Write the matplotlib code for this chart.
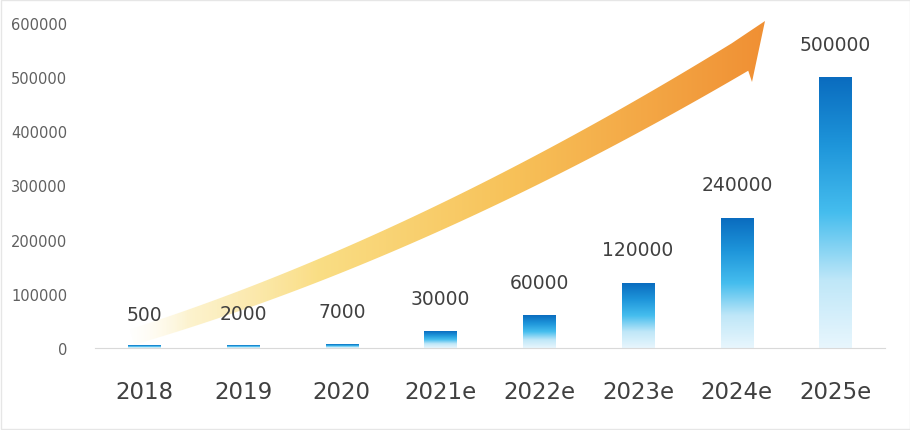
import numpy as np
import matplotlib.pyplot as plt
from matplotlib.colors import LinearSegmentedColormap
from matplotlib.patches import Polygon

years = ["2018", "2019", "2020", "2021e", "2022e", "2023e", "2024e", "2025e"]
values = [500, 2000, 7000, 30000, 60000, 120000, 240000, 500000]
yticks = [0, 100000, 200000, 300000, 400000, 500000, 600000]

fig = plt.figure(figsize=(9.1, 4.31), dpi=100)
fig.patch.set_facecolor("white")
ax = fig.add_axes([95 / 910, 82 / 431, 790 / 910, 325 / 431])

bar_cmap = LinearSegmentedColormap.from_list(
    "bar", ["#e8f6fd", "#bfe7f8", "#45bdee", "#1e95da", "#0a6cbf"])
grad = np.linspace(0, 1, 256).reshape(-1, 1)
bw = 0.33
for i, v in enumerate(values):
    ax.imshow(grad, cmap=bar_cmap, aspect="auto", origin="lower",
              extent=(i - bw / 2, i + bw / 2, 0, max(v, 4000)), zorder=2)
    ax.text(i, v + 61000, f"{v}", ha="center", va="center",
            fontsize=13.5, color="#404040")

ax.set_xlim(-0.5, len(years) - 0.5)
ax.set_ylim(0, 600000)
ax.set_xticks(range(len(years)))
ax.set_xticklabels(years, fontsize=16.5, color="#404040")
ax.set_yticks(yticks)
ax.set_yticklabels([str(t) for t in yticks], fontsize=10.5, color="#606060")
ax.tick_params(axis="both", length=0)
ax.tick_params(axis="x", pad=23)
ax.tick_params(axis="y", pad=20)
for s in ["top", "right", "left"]:
    ax.spines[s].set_visible(False)
ax.spines["bottom"].set_color("#d9d9d9")
ax.set_facecolor("none")

# decorative growth arrow, drawn in pixel space on an overlay
ov = fig.add_axes([0, 0, 1, 1], zorder=-1)
ov.set_xlim(0, 910)
ov.set_ylim(431, 0)
ov.axis("off")

p0, p1, p2 = np.array([132, 338]), np.array([420, 250]), np.array([740, 58])
t = np.linspace(0, 1, 80)[:, None]
c = (1 - t) ** 2 * p0 + 2 * (1 - t) * t * p1 + t ** 2 * p2
d = 2 * (1 - t) * (p1 - p0) + 2 * t * (p2 - p1)
d = d / np.linalg.norm(d, axis=1, keepdims=True)
n = np.column_stack([d[:, 1], -d[:, 0]])
hw = (8 + 8 * t[:, 0])[:, None]
upper = c + n * hw
lower = c - n * hw
tip = np.array([765, 22])
barb = np.array([752, 83])
pts = np.vstack([upper, tip, barb, lower[::-1]])

arrow_cmap = LinearSegmentedColormap.from_list(
    "arr", [(0.0, (1, 0.98, 0.92, 0.0)), (0.1, (0.99, 0.94, 0.76, 0.8)),
            (0.3, (0.98, 0.87, 0.52, 1)), (0.6, (0.97, 0.76, 0.35, 1)),
            (1.0, (0.94, 0.56, 0.20, 1))])
xgrad = np.linspace(0, 1, 256).reshape(1, -1)
img = ov.imshow(xgrad, cmap=arrow_cmap, aspect="auto",
                extent=(124, 770, 431, 0))
poly = Polygon(pts, closed=True, facecolor="none", edgecolor="none")
ov.add_patch(poly)
img.set_clip_path(poly)

border = plt.Rectangle((0.5, 0.5), 909, 430, fill=False, edgecolor="#e6e6e6", lw=1)
ov.add_patch(border)

fig.savefig("out.png", dpi=100)
